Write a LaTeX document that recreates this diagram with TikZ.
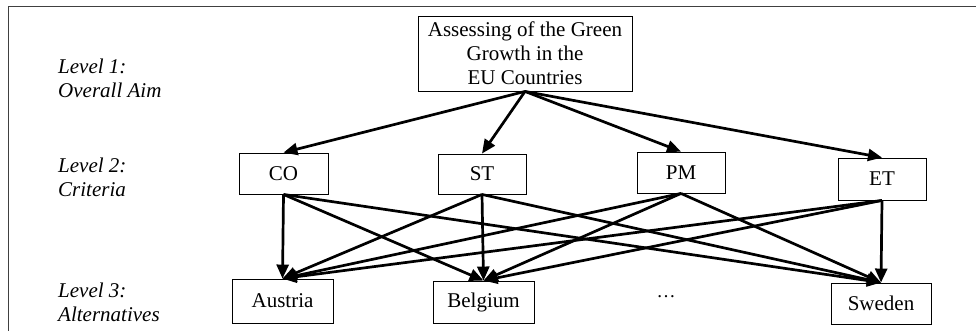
\documentclass[tikz,border=0pt]{standalone}
\usepackage{fontspec}
\setmainfont{Liberation Serif}
\usetikzlibrary{arrows.meta}
\begin{document}
\begin{tikzpicture}[x=1pt,y=-1pt,
  box/.style={draw=black,line width=0.9pt,inner sep=0pt,align=center,
    font=\fontsize{21}{24}\selectfont},
  lvl/.style={anchor=west,align=left,inner sep=0pt,
    font=\fontsize{21}{24}\selectfont\itshape},
  conn/.style={line width=2.7pt,-{Triangle[length=14pt,width=12pt]},shorten >=0pt}]
\useasboundingbox (0,0) rectangle (976,331);
\draw[black!75,line width=1pt] (8,331) -- (8,7) -- (976,7);
% left labels
\node[lvl] (l1) at (58,78) {Level 1:\\Overall Aim};
\node[lvl] (l2) at (58,177) {Level 2:\\Criteria};
\node[lvl] (l3) at (58,302) {Level 3:\\Alternatives};
% level 1
\node[box,minimum width=214pt,minimum height=75pt] (top) at (525,53.5)
  {Assessing of the Green\\Growth in the\\EU Countries};
% level 2
\node[box,minimum width=89pt,minimum height=41pt] (CO) at (283.5,173.5) {CO};
\node[box,minimum width=88pt,minimum height=40pt] (ST) at (482,174) {ST};
\node[box,minimum width=88pt,minimum height=41pt] (PM) at (681,172.5) {PM};
\node[box,minimum width=88pt,minimum height=42pt] (ET) at (882,179) {\raisebox{-3pt}{ET}};
% level 3
\node[box,minimum width=101pt,minimum height=44pt] (AT) at (282.5,301) {Austria};
\node[box,minimum width=101pt,minimum height=42pt] (BE) at (483.5,302) {Belgium};
\node[box,minimum width=100pt,minimum height=41pt] (SE) at (881,303.5) {Sweden};
\node[inner sep=0pt,font=\fontsize{19}{24}\selectfont] (dots) at (666,297) {\dots};
% level 1 -> level 2
\foreach \c in {CO,ST,PM,ET}
  \draw[conn] (top.south) -- (\c.north);
% level 2 -> level 3
\foreach \c in {CO,ST,PM,ET}
  \foreach \a in {AT,BE,SE}
    \draw[conn] (\c.south) -- (\a.north);
\end{tikzpicture}
\end{document}
